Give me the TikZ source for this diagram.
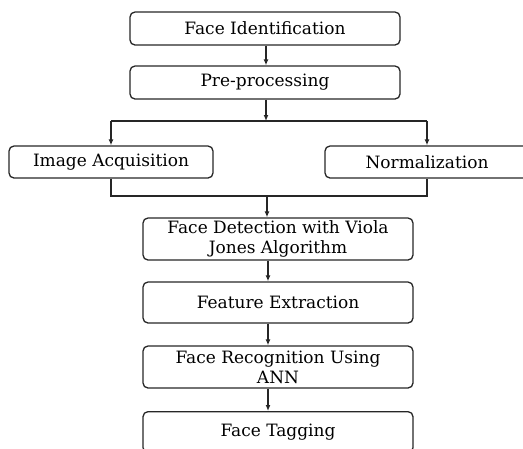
\documentclass[tikz,border=0pt]{standalone}
\usepackage{fontspec}
\setmainfont{DejaVu Serif}
\usetikzlibrary{arrows.meta}
\begin{document}
\begin{tikzpicture}[x=1pt,y=-1pt,
  box/.style={draw=black!85,line width=1.3pt,rounded corners=5pt,inner sep=0pt,align=center,font=\fontsize{17}{20}\selectfont},
  conn/.style={draw=black!85,line width=1.3pt},
  arr/.style={conn,-{Latex[length=6pt,width=5pt]}}]
\useasboundingbox (0,0) rectangle (523,448);
\clip (0,0) rectangle (523,448);
\node[box,minimum width=270pt,minimum height=33pt] (fi) at (265,28.5) {Face Identification};
\node[box,minimum width=270pt,minimum height=33pt] (pp) at (265,82.5) {Pre-processing};
\node[box,minimum width=204pt,minimum height=32pt] (ia) at (111,162) {Image Acquisition};
\node[box,minimum width=204pt,minimum height=32pt] (nm) at (427,162) {Normalization};
\node[box,minimum width=270pt,minimum height=42pt] (fd) at (278,239) {Face Detection with Viola\\Jones Algorithm};
\node[box,minimum width=270pt,minimum height=41pt] (fe) at (278,302.5) {Feature Extraction};
\node[box,minimum width=270pt,minimum height=42pt] (fr) at (278,367) {Face Recognition Using\\ANN};
\node[box,minimum width=270pt,minimum height=41pt,anchor=north] (ft) at (278,411) {Face Tagging};
\coordinate (split) at (266,121);
\coordinate (join) at (267,196);
\draw[arr] (fi.south -| 266,0) -- (pp.north -| 266,0);
\draw[arr] (pp.south -| 266,0) -- (split);
\draw[conn] (split -| ia) -- (split -| nm);
\draw[arr] (split -| ia) -- (ia.north);
\draw[arr] (split -| nm) -- (nm.north);
\draw[conn] (ia.south) -- (join -| ia) -- (join -| nm) -- (nm.south);
\draw[arr] (join) -- (fd.north -| join);
\draw[arr] (fd.south -| 268,0) -- (fe.north -| 268,0);
\draw[arr] (fe.south -| 268,0) -- (fr.north -| 268,0);
\draw[arr] (fr.south -| 268,0) -- (ft.north -| 268,0);
\end{tikzpicture}
\end{document}
